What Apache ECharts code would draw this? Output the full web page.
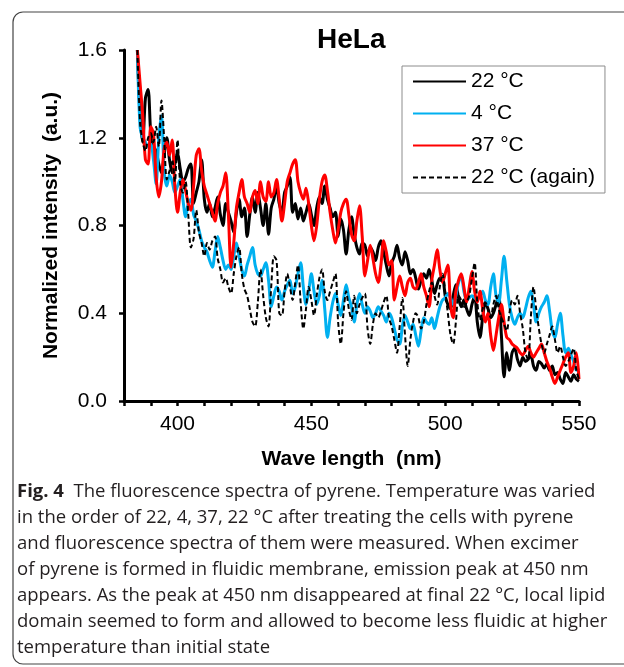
<!DOCTYPE html>
<html>
<head>
<meta charset="utf-8">
<script src="https://cdn.jsdelivr.net/npm/echarts@6/dist/echarts.min.js"></script>
<style>
html, body { margin: 0; padding: 0; background: #fff; }
#chart { width: 624px; height: 667px; }
</style>
</head>
<body>
<div id="chart"></div>
<script>
// wavelength grid of the spectra (nm), one point per nm from 385
var startNm = 385;
var seriesNames = ['22 \u00b0C', '4 \u00b0C', '37 \u00b0C', '22 \u00b0C (again)'];
var yTicks = [0, 0.4, 0.8, 1.2, 1.6];
var xLabels = [400, 450, 500, 550];

var temp22 = [
  1.60, 1.30, 1.18, 1.38, 1.42, 1.22, 1.16, 1.14, 1.08, 1.04,
  1.12, 1.20, 1.10, 1.04, 1.08, 1.13, 1.06, 1.00, 1.02, 1.06,
  1.08, 0.90, 0.95, 1.00, 1.10, 0.92, 0.86, 0.90, 0.84, 0.88,
  0.93, 0.85, 0.80, 0.90, 0.86, 0.82, 0.77, 0.86, 0.92, 0.84,
  0.88, 0.75, 0.85, 0.93, 0.86, 0.95, 0.88, 0.80, 0.90, 0.76,
  0.88, 0.92, 0.98, 0.90, 0.86, 0.95, 0.98, 1.02, 0.86, 0.90,
  0.83, 0.88, 0.82, 0.86, 0.90, 0.85, 0.80, 0.88, 0.93, 0.90,
  0.98, 0.92, 0.88, 0.84, 0.86, 0.75, 0.83, 0.78, 0.67, 0.78,
  0.84, 0.76, 0.70, 0.67, 0.72, 0.71, 0.66, 0.70, 0.68, 0.64,
  0.70, 0.73, 0.68, 0.62, 0.57, 0.63, 0.66, 0.71, 0.65, 0.62,
  0.68, 0.64, 0.58, 0.60, 0.56, 0.51, 0.55, 0.58, 0.56, 0.60,
  0.55, 0.49, 0.53, 0.56, 0.56, 0.48, 0.44, 0.42, 0.48, 0.53,
  0.47, 0.43, 0.46, 0.42, 0.39, 0.44, 0.48, 0.36, 0.29, 0.38,
  0.45, 0.42, 0.38, 0.40, 0.44, 0.48, 0.30, 0.11, 0.22, 0.14,
  0.22, 0.24, 0.19, 0.16, 0.20, 0.18, 0.19, 0.21, 0.16, 0.14,
  0.18, 0.17, 0.15, 0.17, 0.14, 0.16, 0.12, 0.13, 0.10, 0.08,
  0.13, 0.11, 0.09, 0.12, 0.10, 0.09
];

var temp4 = [
  1.60, 1.25, 1.20, 1.18, 1.16, 1.17, 1.10, 0.99, 1.20, 1.30,
  1.05, 0.98, 1.03, 1.00, 0.95, 0.98, 1.01, 0.92, 0.84, 0.90,
  0.92, 0.85, 0.82, 0.78, 0.73, 0.70, 0.68, 0.64, 0.61, 0.68,
  0.75, 0.70, 0.64, 0.60, 0.62, 0.60, 0.66, 0.72, 0.66, 0.60,
  0.57, 0.62, 0.66, 0.70, 0.62, 0.58, 0.57, 0.60, 0.63, 0.55,
  0.43, 0.48, 0.52, 0.50, 0.46, 0.50, 0.53, 0.55, 0.49, 0.52,
  0.58, 0.63, 0.52, 0.44, 0.50, 0.58, 0.50, 0.44, 0.48, 0.55,
  0.42, 0.29, 0.38, 0.45, 0.49, 0.44, 0.39, 0.46, 0.53, 0.47,
  0.43, 0.36, 0.44, 0.49, 0.44, 0.40, 0.43, 0.41, 0.38, 0.40,
  0.43, 0.41, 0.39, 0.36, 0.40, 0.38, 0.33, 0.28, 0.26, 0.34,
  0.39, 0.36, 0.33, 0.35, 0.30, 0.25, 0.32, 0.38, 0.36, 0.35,
  0.38, 0.33, 0.38, 0.43, 0.46, 0.47, 0.49, 0.47, 0.44, 0.48,
  0.54, 0.57, 0.50, 0.46, 0.47, 0.48, 0.47, 0.46, 0.48, 0.50,
  0.46, 0.44, 0.52, 0.58, 0.48, 0.45, 0.55, 0.66, 0.55, 0.44,
  0.38, 0.35, 0.38, 0.40, 0.38, 0.42, 0.47, 0.50, 0.44, 0.36,
  0.40, 0.43, 0.45, 0.48, 0.41, 0.32, 0.29, 0.35, 0.40, 0.30,
  0.22, 0.24, 0.21, 0.18, 0.14, 0.15
];

var temp37 = [
  1.60, 1.45, 1.30, 1.10, 1.08, 1.25, 1.22, 1.02, 0.93, 1.00,
  1.15, 1.18, 1.12, 1.19, 0.98, 0.86, 0.95, 1.01, 0.96, 0.90,
  0.87, 0.98, 1.12, 1.15, 1.05, 0.98, 0.94, 0.90, 0.86, 0.82,
  0.90, 0.95, 0.98, 1.04, 0.85, 0.61, 0.72, 0.88, 0.95, 1.01,
  0.93, 0.90, 0.86, 0.93, 0.96, 0.90, 1.00, 0.93, 0.91, 1.00,
  0.93, 0.95, 1.01, 0.92, 0.82, 0.90, 1.00, 1.04, 1.08, 1.10,
  1.00, 0.95, 0.92, 0.97, 0.90, 0.80, 0.73, 0.80, 0.92, 1.00,
  1.03, 0.96, 0.86, 0.78, 0.72, 0.78, 0.86, 0.90, 0.92, 0.85,
  0.76, 0.73, 0.82, 0.89, 0.75, 0.57, 0.64, 0.71, 0.65, 0.58,
  0.54, 0.62, 0.73, 0.68, 0.62, 0.64, 0.46, 0.52, 0.57, 0.52,
  0.48, 0.54, 0.56, 0.52, 0.51, 0.54, 0.58, 0.52, 0.48, 0.43,
  0.55, 0.62, 0.69, 0.60, 0.54, 0.58, 0.62, 0.44, 0.38, 0.50,
  0.55, 0.58, 0.52, 0.45, 0.52, 0.59, 0.50, 0.45, 0.50, 0.42,
  0.36, 0.40, 0.30, 0.23, 0.30, 0.38, 0.44, 0.36, 0.29, 0.28,
  0.26, 0.25, 0.24, 0.22, 0.21, 0.23, 0.25, 0.22, 0.20, 0.22,
  0.24, 0.26, 0.22, 0.18, 0.15, 0.11, 0.08, 0.11, 0.14, 0.17,
  0.20, 0.22, 0.13, 0.16, 0.22, 0.10
];

var temp22again = [
  1.60, 1.27, 1.18, 1.14, 1.20, 1.22, 1.18, 1.25, 1.16, 1.37,
  1.20, 1.01, 1.05, 1.10, 1.00, 1.19, 0.99, 0.95, 1.00, 0.85,
  0.70, 0.74, 0.87, 0.77, 0.72, 0.66, 0.72, 0.69, 0.73, 0.75,
  0.65, 0.60, 0.54, 0.56, 0.52, 0.49, 0.58, 0.66, 0.70, 0.58,
  0.51, 0.48, 0.42, 0.36, 0.34, 0.45, 0.60, 0.48, 0.38, 0.34,
  0.52, 0.66, 0.64, 0.40, 0.39, 0.50, 0.58, 0.52, 0.46, 0.54,
  0.62, 0.45, 0.33, 0.42, 0.52, 0.46, 0.39, 0.48, 0.56, 0.60,
  0.50, 0.46, 0.50, 0.54, 0.58, 0.36, 0.26, 0.40, 0.50, 0.42,
  0.37, 0.48, 0.40, 0.44, 0.47, 0.49, 0.33, 0.26, 0.35, 0.40,
  0.38, 0.41, 0.45, 0.48, 0.38, 0.34, 0.28, 0.22, 0.34, 0.47,
  0.30, 0.16, 0.28, 0.36, 0.40, 0.38, 0.33, 0.36, 0.44, 0.50,
  0.54, 0.48, 0.44, 0.52, 0.58, 0.50, 0.40, 0.30, 0.26, 0.36,
  0.48, 0.46, 0.42, 0.45, 0.48, 0.56, 0.63, 0.45, 0.37, 0.42,
  0.45, 0.42, 0.38, 0.44, 0.48, 0.42, 0.38, 0.35, 0.32, 0.40,
  0.46, 0.44, 0.48, 0.40, 0.33, 0.22, 0.19, 0.38, 0.52, 0.42,
  0.33, 0.26, 0.22, 0.26, 0.30, 0.34, 0.28, 0.22, 0.25, 0.20,
  0.16, 0.18, 0.21, 0.24, 0.14, 0.10
];

var caption = [
  '{b|Fig. 4}  The fluorescence spectra of pyrene. Temperature was varied',
  'in the order of 22, 4, 37, 22 \u00b0C after treating the cells with pyrene',
  'and fluorescence spectra of them were measured. When excimer',
  'of pyrene is formed in fluidic membrane, emission peak at 450 nm',
  'appears. As the peak at 450 nm disappeared at final 22 \u00b0C, local lipid',
  'domain seemed to form and allowed to become less fluidic at higher',
  'temperature than initial state'
];

function pairs(values) {
  var out = [];
  for (var i = 0; i < values.length; i++) {
    out.push([startNm + i, values[i]]);
  }
  return out;
}

var chart = echarts.init(document.getElementById('chart'));
var font = 'Arial, "Liberation Sans", sans-serif';

function lineSeries(name, values, color, width, type) {
  return {
    name: name,
    type: 'line',
    data: pairs(values),
    symbol: 'none',
    smooth: 0.3,
    lineStyle: { color: color, width: width, type: type },
    itemStyle: { color: color }
  };
}

var option = {
  animation: false,
  backgroundColor: '#fff',
  title: {
    text: 'HeLa',
    left: 317,
    top: 26,
    padding: 0,
    textStyle: { fontFamily: font, fontSize: 28, fontWeight: 'bold', color: '#000' }
  },
  legend: {
    orient: 'vertical',
    left: 402,
    top: 66,
    padding: [5, 10, 5, 10],
    itemGap: 11,
    itemWidth: 53,
    itemHeight: 4,
    borderColor: '#8c8c8c',
    borderWidth: 1,
    data: seriesNames,
    itemStyle: { color: 'rgba(0,0,0,0)', borderWidth: 0, opacity: 0 },
    textStyle: { fontFamily: font, fontSize: 21, color: '#000', lineHeight: 21 }
  },
  grid: { left: 124, top: 50, width: 455, height: 351 },
  xAxis: {
    type: 'value',
    min: 380,
    max: 550,
    interval: 10,
    name: 'Wave length  (nm)',
    nameLocation: 'middle',
    nameGap: 48,
    nameTextStyle: { fontFamily: font, fontSize: 21, fontWeight: 'bold', color: '#000' },
    splitLine: { show: false },
    axisLine: { lineStyle: { color: '#000', width: 3 } },
    axisTick: { length: 5, lineStyle: { color: '#000', width: 2.5 } },
    axisLabel: {
      margin: 13,
      fontFamily: font,
      fontSize: 21,
      color: '#000',
      formatter: function (v) { return xLabels.indexOf(v) >= 0 ? String(v) : ''; }
    }
  },
  yAxis: {
    type: 'value',
    min: yTicks[0],
    max: yTicks[yTicks.length - 1],
    interval: 0.4,
    name: 'Normalized intensity  (a.u.)',
    nameLocation: 'middle',
    nameGap: 62,
    nameTextStyle: { fontFamily: font, fontSize: 21, fontWeight: 'bold', color: '#000' },
    splitLine: { show: false },
    axisLine: { show: true, lineStyle: { color: '#000', width: 3 } },
    axisTick: { show: true, length: 5, lineStyle: { color: '#000', width: 2.5 } },
    axisLabel: {
      margin: 17,
      fontFamily: font,
      fontSize: 21,
      color: '#000',
      formatter: function (v) { return v.toFixed(1); }
    }
  },
  graphic: [
    {
      type: 'rect',
      shape: { x: 13, y: 12, width: 640, height: 652, r: 10 },
      style: { fill: 'none', stroke: '#444', lineWidth: 1.2 },
      silent: true
    },
    {
      type: 'text',
      left: 17,
      top: 479,
      style: {
        text: caption.join('\n'),
        font: '18.5px "Open Sans", sans-serif',
        fill: '#231f20',
        lineHeight: 26,
        rich: {
          b: { fontFamily: '"Open Sans", sans-serif', fontSize: 18.5, fontWeight: 'bold', fill: '#231f20', lineHeight: 26 }
        }
      }
    }
  ],
  series: [
    lineSeries(seriesNames[0], temp22, '#000000', 3, 'solid'),
    lineSeries(seriesNames[1], temp4, '#00b0f0', 3, 'solid'),
    lineSeries(seriesNames[2], temp37, '#ff0000', 3, 'solid'),
    lineSeries(seriesNames[3], temp22again, '#000000', 2, [5, 3])
  ]
};

chart.setOption(option);
</script>
</body>
</html>
